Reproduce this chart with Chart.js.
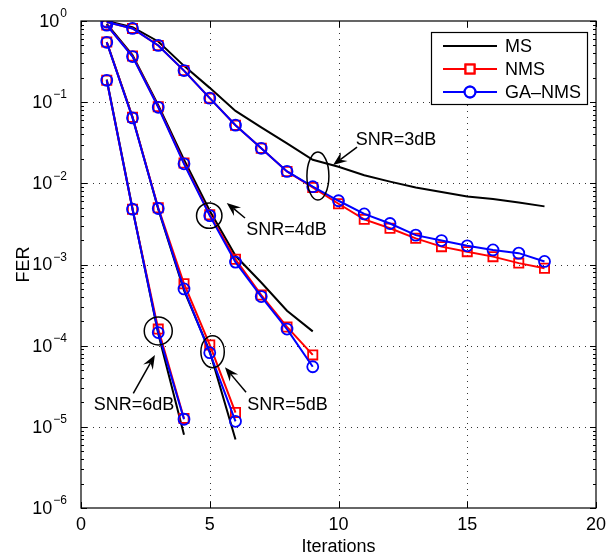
<!DOCTYPE html>
<html>
<head>
<meta charset="utf-8">
<script src="https://cdn.jsdelivr.net/npm/chart.js@4/dist/chart.umd.min.js"></script>
<style>
  body { margin: 0; background: #fff; }
  canvas { display: block; }
</style>
</head>
<body>
<canvas id="ferChart" width="606" height="557"></canvas>
<script>
// iterations for each SNR curve
const iters3 = [1, 2, 3, 4, 5, 6, 7, 8, 9, 10, 11, 12, 13, 14, 15, 16, 17, 18];
const iters4 = [1, 2, 3, 4, 5, 6, 7, 8, 9];
const iters5 = [1, 2, 3, 4, 5, 6];
const iters6 = [1, 2, 3, 4];

// SNR = 3dB
const ms3 = [1.0, 0.84, 0.56, 0.28, 0.15, 0.078, 0.049, 0.031, 0.0195, 0.016, 0.0126, 0.0105, 0.0089, 0.0078, 0.0069, 0.0064, 0.0058, 0.0052];
const nms3 = [0.97, 0.81, 0.50, 0.245, 0.112, 0.052, 0.027, 0.014, 0.0089, 0.0056, 0.0036, 0.0028, 0.0021, 0.00166, 0.00144, 0.00125, 0.00104, 0.0009];
const ga3 = [0.97, 0.81, 0.50, 0.245, 0.112, 0.052, 0.027, 0.014, 0.0091, 0.0061, 0.0042, 0.0032, 0.0023, 0.00197, 0.0017, 0.00151, 0.00138, 0.00109];

// SNR = 4dB
const ms4 = [0.92, 0.38, 0.092, 0.0195, 0.0046, 0.00128, 0.0006, 0.00027, 0.00015];
const nms4 = [0.89, 0.37, 0.088, 0.0178, 0.0041, 0.00116, 0.00042, 0.00017, 0.000077];
const ga4 = [0.89, 0.365, 0.0865, 0.0174, 0.0040, 0.00107, 0.000403, 0.00016, 0.000055];

// SNR = 5dB
const ms5 = [0.55, 0.066, 0.0048, 0.00048, 0.000085, 0.000007];
const nms5 = [0.55, 0.065, 0.0050, 0.00058, 0.000102, 0.000015];
const ga5 = [0.546, 0.064, 0.0049, 0.0005, 0.000082, 0.0000117];

// SNR = 6dB
const ms6 = [0.19, 0.0049, 0.00014, 0.000008];
const nms6 = [0.186, 0.0048, 0.00016, 0.0000127];
const ga6 = [0.186, 0.0048, 0.000145, 0.0000124];

const algoNames = ["MS", "NMS", "GA–NMS"];
const xTicks = [0, 5, 10, 15, 20];
const yTicks = [1e-6, 1e-5, 1e-4, 1e-3, 1e-2, 1e-1, 1];

// annotations, in data coordinates
const snrLabels = ["SNR=3dB", "SNR=4dB", "SNR=5dB", "SNR=6dB"];
const labelAt = [[12.23, 0.0342], [7.98, 0.00266], [8.02, 1.86e-5], [2.06, 1.86e-5]];
const ringAt = [[9.2, 0.0123], [4.98, 0.0040], [5.11, 8.43e-5], [3.0, 1.52e-4]];
const arrowFrom = [[10.72, 0.028], [6.37, 0.00374], [6.41, 2.67e-5], [2.03, 2.59e-5]];
const arrowTo = [[9.79, 0.0168], [5.66, 0.00573], [5.59, 5.42e-5], [2.87, 7.67e-5]];
const ringRadii = [[11, 24], [12.7, 12.7], [11.7, 16], [14, 14]];

const FONT = "Liberation Sans, Arial, Helvetica, sans-serif";

const toPoints = (xs, ys) => xs.map((x, i) => ({ x: x, y: ys[i] }));

const styles = [
  { borderColor: "#000000", pointRadius: 0, pointStyle: "circle", order: 3 },
  { borderColor: "#ff0000", pointRadius: 6.5, pointStyle: "rect", order: 2 },
  { borderColor: "#0000ff", pointRadius: 5.5, pointStyle: "circle", order: 1 }
];

const groups = [
  [iters3, [ms3, nms3, ga3]],
  [iters4, [ms4, nms4, ga4]],
  [iters5, [ms5, nms5, ga5]],
  [iters6, [ms6, nms6, ga6]]
];

const datasets = [];
groups.forEach(([xs, series]) => {
  series.forEach((ys, k) => {
    const s = styles[k];
    datasets.push({
      label: algoNames[k],
      data: toPoints(xs, ys),
      borderColor: s.borderColor,
      borderWidth: 2,
      pointRadius: s.pointRadius,
      pointStyle: s.pointStyle,
      pointBorderColor: s.borderColor,
      pointBackgroundColor: "rgba(0,0,0,0)",
      pointBorderWidth: 1.8,
      tension: 0,
      order: s.order
    });
  });
});

function drawArrow(ctx, x1, y1, x2, y2) {
  const ang = Math.atan2(y2 - y1, x2 - x1);
  const len = 14, half = 5.5, back = 9;
  const bx = x2 - back * Math.cos(ang), by = y2 - back * Math.sin(ang);
  ctx.beginPath();
  ctx.moveTo(x1, y1);
  ctx.lineTo(bx, by);
  ctx.stroke();
  const cx = x2 - len * Math.cos(ang), cy = y2 - len * Math.sin(ang);
  ctx.beginPath();
  ctx.moveTo(x2, y2);
  ctx.lineTo(cx - half * Math.sin(ang), cy + half * Math.cos(ang));
  ctx.lineTo(bx, by);
  ctx.lineTo(cx + half * Math.sin(ang), cy - half * Math.cos(ang));
  ctx.closePath();
  ctx.fill();
}

const matlabFrame = {
  id: "matlabFrame",
  beforeDraw(chart) {
    const ctx = chart.ctx;
    ctx.save();
    ctx.fillStyle = "#fff";
    ctx.fillRect(0, 0, chart.width, chart.height);
    ctx.restore();
  },
  beforeDatasetsDraw(chart) {
    const { ctx, chartArea: a, scales: { x, y } } = chart;
    ctx.save();
    ctx.strokeStyle = "#333";
    ctx.lineWidth = 1;
    ctx.setLineDash([1, 5]);
    x.ticks.forEach(t => {
      const px = Math.round(x.getPixelForValue(t.value)) + 0.5;
      if (px <= a.left + 1 || px >= a.right - 1) return;
      ctx.beginPath(); ctx.moveTo(px, a.top); ctx.lineTo(px, a.bottom); ctx.stroke();
    });
    y.ticks.forEach(t => {
      const py = Math.round(y.getPixelForValue(t.value)) + 0.5;
      if (py <= a.top + 1 || py >= a.bottom - 1) return;
      ctx.beginPath(); ctx.moveTo(a.left, py); ctx.lineTo(a.right, py); ctx.stroke();
    });
    ctx.restore();
  },
  afterDatasetsDraw(chart) {
    const { ctx, chartArea: a, scales: { x, y } } = chart;
    ctx.save();
    ctx.setLineDash([]);
    ctx.strokeStyle = "#000";
    ctx.fillStyle = "#000";
    ctx.lineWidth = 1.2;
    ctx.strokeRect(a.left, a.top, a.right - a.left, a.bottom - a.top);

    // tick marks
    ctx.lineWidth = 1;
    x.ticks.forEach(t => {
      const px = Math.round(x.getPixelForValue(t.value)) + 0.5;
      ctx.beginPath();
      ctx.moveTo(px, a.bottom); ctx.lineTo(px, a.bottom - 6);
      ctx.moveTo(px, a.top); ctx.lineTo(px, a.top + 6);
      ctx.stroke();
    });
    y.ticks.forEach((t, i) => {
      const py = Math.round(y.getPixelForValue(t.value)) + 0.5;
      ctx.beginPath();
      ctx.moveTo(a.left, py); ctx.lineTo(a.left + 6, py);
      ctx.moveTo(a.right, py); ctx.lineTo(a.right - 6, py);
      ctx.stroke();
      if (i < y.ticks.length - 1) {
        for (let m = 2; m <= 9; m++) {
          const my = Math.round(y.getPixelForValue(t.value * m)) + 0.5;
          ctx.beginPath();
          ctx.moveTo(a.left, my); ctx.lineTo(a.left + 3, my);
          ctx.moveTo(a.right, my); ctx.lineTo(a.right - 3, my);
          ctx.stroke();
        }
      }
    });

    // tick labels
    ctx.textBaseline = "middle";
    ctx.textAlign = "center";
    ctx.font = "18px " + FONT;
    x.ticks.forEach(t => {
      ctx.fillText(String(t.value), x.getPixelForValue(t.value), a.bottom + 17);
    });
    y.ticks.forEach(t => {
      const py = y.getPixelForValue(t.value);
      const e = Math.round(Math.log10(t.value));
      const sup = e === 0 ? "0" : "−" + Math.abs(e);
      ctx.font = "12px " + FONT;
      const sw = ctx.measureText(sup).width;
      ctx.textAlign = "left";
      const right = a.left - 14;
      ctx.fillText(sup, right - sw, py - 7);
      ctx.font = "18px " + FONT;
      ctx.textAlign = "right";
      ctx.fillText("10", right - sw - 1, py + 1);
    });

    // axis titles
    ctx.textAlign = "center";
    ctx.font = "18px " + FONT;
    ctx.fillText("Iterations", (a.left + a.right) / 2, a.bottom + 39);
    ctx.save();
    ctx.translate(24, (a.top + a.bottom) / 2);
    ctx.rotate(-Math.PI / 2);
    ctx.fillText("FER", 0, 0);
    ctx.restore();

    // annotations
    ctx.lineWidth = 1.5;
    snrLabels.forEach((txt, i) => {
      const rx = x.getPixelForValue(ringAt[i][0]), ry = y.getPixelForValue(ringAt[i][1]);
      ctx.beginPath();
      ctx.ellipse(rx, ry, ringRadii[i][0], ringRadii[i][1], 0, 0, Math.PI * 2);
      ctx.stroke();
      drawArrow(ctx,
        x.getPixelForValue(arrowFrom[i][0]), y.getPixelForValue(arrowFrom[i][1]),
        x.getPixelForValue(arrowTo[i][0]), y.getPixelForValue(arrowTo[i][1]));
      ctx.fillText(txt, x.getPixelForValue(labelAt[i][0]), y.getPixelForValue(labelAt[i][1]));
    });

    // legend
    const lx = 431, ly = 32, lw = 156, lh = 72;
    ctx.fillStyle = "#fff";
    ctx.fillRect(lx, ly, lw, lh);
    ctx.strokeStyle = "#000";
    ctx.lineWidth = 1.2;
    ctx.strokeRect(lx + 0.5, ly + 0.5, lw, lh);
    algoNames.forEach((name, k) => {
      const ds = chart.data.datasets[k];
      const yy = ly + 14 + k * 23;
      ctx.strokeStyle = ds.borderColor;
      ctx.lineWidth = 2;
      ctx.beginPath(); ctx.moveTo(lx + 12, yy); ctx.lineTo(lx + 66, yy); ctx.stroke();
      if (ds.pointRadius > 0) {
        ctx.fillStyle = "#fff";
        ctx.strokeStyle = ds.borderColor;
        Chart.helpers.drawPoint(ctx, {
          pointStyle: ds.pointStyle, borderWidth: ds.pointBorderWidth, radius: ds.pointRadius
        }, lx + 39, yy);
        ctx.lineWidth = ds.pointBorderWidth;
        ctx.stroke();
      }
      ctx.fillStyle = "#000";
      ctx.textAlign = "left";
      ctx.font = "18px " + FONT;
      ctx.fillText(name, lx + 74, yy + 1);
    });
    ctx.restore();
  }
};

new Chart(document.getElementById("ferChart"), {
  type: "line",
  data: { datasets: datasets },
  options: {
    responsive: false,
    animation: false,
    devicePixelRatio: 1,
    layout: { padding: { left: 81, right: 10, top: 21, bottom: 49 } },
    plugins: { legend: { display: false }, tooltip: { enabled: false } },
    scales: {
      x: {
        type: "linear", min: 0, max: 20, display: false,
        afterBuildTicks: s => { s.ticks = xTicks.map(v => ({ value: v })); }
      },
      y: {
        type: "logarithmic", min: 1e-6, max: 1, display: false,
        afterBuildTicks: s => { s.ticks = yTicks.map(v => ({ value: v })); }
      }
    }
  },
  plugins: [matlabFrame]
});
</script>
</body>
</html>
